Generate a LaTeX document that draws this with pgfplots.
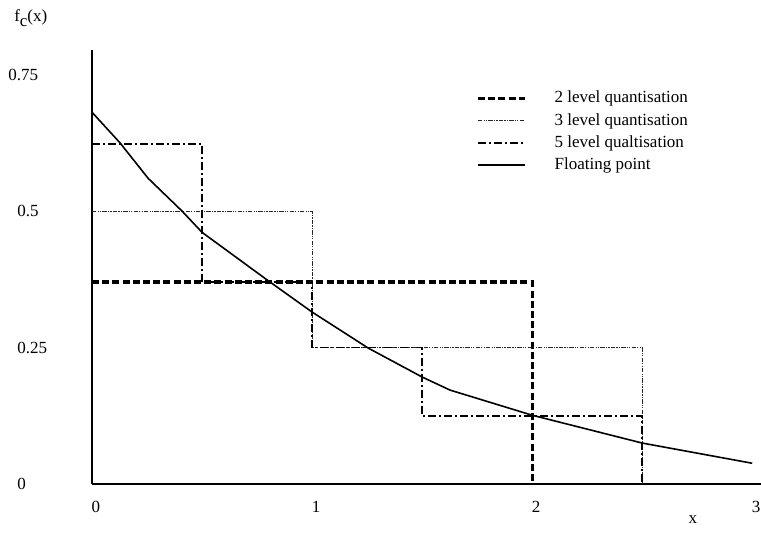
\documentclass[border=0pt]{standalone}
\usepackage{pgfplots}
\pgfplotsset{compat=1.18}
\usepackage{fontspec}
\setmainfont{Liberation Serif}
\begin{document}
\fontsize{8.5}{10}\selectfont
\begin{tikzpicture}
\useasboundingbox (0pt,0pt) rectangle (380.5pt,267pt);
\begin{axis}[
  at={(46pt,25pt)}, anchor=origin,
  scale only axis, width=334.5pt, height=217pt,
  xmin=0, xmax=3.04, ymin=0, ymax=0.795,
  axis lines=left, axis line style={-, line width=0.9pt},
  clip=false,
  major tick length=0pt,
  xtick={0,1,2,3}, ytick={0,0.25,0.5,0.75},
  yticklabels={0,0.25,0.5,\hspace*{-4.5pt}0.75},
  /pgf/number format/assume math mode=true,
  ticklabel style={font=\fontsize{8.5}{10}\selectfont},
  yticklabel style={anchor=west, inner sep=0pt, xshift=-37.5pt},
  xticklabel style={anchor=center, inner sep=0pt, yshift=-11.5pt, xshift=2pt},
  legend style={at={(axis cs:1.745,0.728)}, anchor=north west, draw=none, fill=none,
    font=\fontsize{8.5}{10}\selectfont, inner sep=0pt, row sep=0pt,
    nodes={inner sep=2pt},
    /tikz/every odd column/.append style={column sep=12pt}},
  legend cell align=left,
  legend image code/.code={\draw[#1] (0pt,0pt) -- (23.5pt,0pt);},
]
\addplot[black, line width=1.6pt, dash pattern=on 3.5pt off 1.6pt] coordinates {
  (0,0.37) (2,0.37) (2,0)};
\addlegendentry{2 level quantisation}
\addplot[black!85, line width=0.5pt, dash pattern=on 2.2pt off 0.6pt on 0.6pt off 0.6pt on 0.6pt off 0.6pt] coordinates {
  (0,0.5) (1,0.5) (1,0.25) (2.5,0.25) (2.5,0)};
\addlegendentry{3 level quantisation}
\addplot[black, line width=0.9pt, dash pattern=on 4pt off 1.5pt on 1pt off 1.5pt] coordinates {
  (0,0.623) (0.5,0.623) (0.5,0.37) (1,0.37) (1,0.25) (1.5,0.25) (1.5,0.125) (2.5,0.125) (2.5,0)};
\addlegendentry{5 level qualtisation}
\addplot[black, line width=0.8pt] coordinates {
  (0,0.681) (0.127,0.625) (0.255,0.560) (0.409,0.5) (0.5,0.461) (0.795,0.374)
  (1,0.315) (1.255,0.249) (1.5,0.196) (1.627,0.172) (2,0.126) (2.5,0.075) (3,0.038)};
\addlegendentry{Floating point}
\node[anchor=center] at (axis cs:2.73,-0.066) {x};
\node[anchor=west, inner sep=0pt] at (axis cs:-0.355,0.853) {f\lower2.5pt\hbox{c}(x)};
\end{axis}
\end{tikzpicture}
\end{document}
